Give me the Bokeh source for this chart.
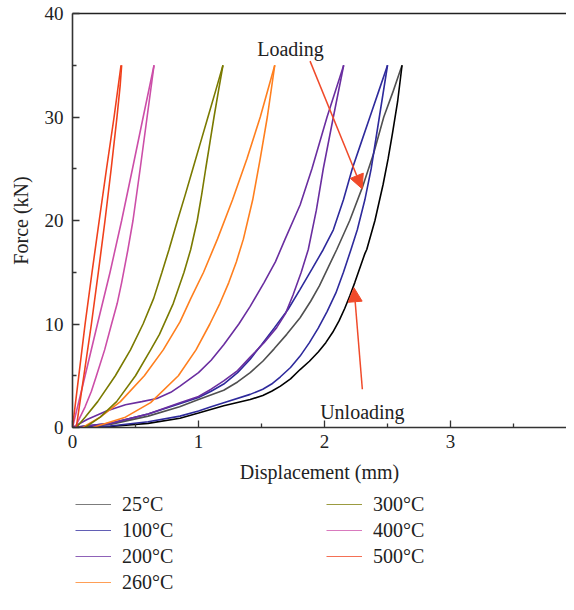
from bokeh.plotting import figure
from bokeh.layouts import column
from bokeh.models import (Range1d, LinearAxis, FixedTicker, Legend, LegendItem,
                          Arrow, NormalHead, Label)
from bokeh.embed import file_html
from bokeh.resources import INLINE

FONT = "Liberation Serif"

# ---------------- data (displacement mm, force kN) ----------------
labels = ["25°C", "100°C", "200°C", "260°C", "300°C", "400°C", "500°C"]
colors = ["#505050", "#2e2a9c", "#6a2ea0", "#ff7f1e", "#7a7a00", "#cc4ea8", "#f0401c"]
unload_colors = ["#000000", "#2e2a9c", "#6a2ea0", "#ff7f1e", "#7a7a00", "#cc4ea8", "#f0401c"]

# branch A (upper / left branch of each loop)
xa_25 = [0.0, 0.3, 0.6, 0.85, 1.0, 1.2, 1.31, 1.41, 1.51, 1.6, 1.7, 1.806, 1.89, 1.96, 2.03, 2.097, 2.2, 2.30, 2.39, 2.47, 2.545, 2.615]
ya_25 = [0.0, 0.3, 1.1, 2.0, 2.7, 3.6, 4.4, 5.3, 6.4, 7.6, 9.0, 10.6, 12.2, 13.7, 15.5, 17.2, 20.0, 23.2, 26.5, 30.0, 32.5, 35.0]
xa_100 = [0.0, 0.3, 0.6, 0.85, 1.0, 1.1, 1.2, 1.31, 1.41, 1.5, 1.6, 1.71, 1.806, 1.9, 1.99, 2.07, 2.15, 2.22, 2.29, 2.36, 2.43, 2.50]
ya_100 = [0.0, 0.4, 1.3, 2.3, 2.9, 3.5, 4.2, 5.3, 6.6, 8.0, 9.6, 11.4, 13.35, 15.3, 17.2, 19.1, 22.0, 25.0, 27.5, 30.0, 32.5, 35.0]
xa_200 = [0.0, 0.12, 0.27, 0.42, 0.55, 0.67, 0.78, 0.853, 1.0, 1.1, 1.2, 1.32, 1.41, 1.52, 1.61, 1.687, 1.806, 1.9, 2.02, 2.152]
ya_200 = [0.0, 0.8, 1.6, 2.2, 2.5, 2.8, 3.4, 4.0, 5.3, 6.5, 8.0, 10.0, 11.7, 14.0, 16.0, 18.2, 21.5, 25.0, 30.0, 35.0]
xa_260 = [0.08, 0.22, 0.38, 0.57, 0.72, 0.853, 0.94, 1.04, 1.15, 1.27, 1.385, 1.49, 1.605]
ya_260 = [0.0, 1.0, 2.5, 5.0, 7.5, 10.2, 12.5, 15.0, 18.2, 22.0, 26.0, 30.0, 35.0]
xa_300 = [0.03, 0.10, 0.20, 0.34, 0.46, 0.56, 0.645, 0.71, 0.766, 0.833, 0.895, 0.955, 1.015, 1.075, 1.135, 1.194]
ya_300 = [0.0, 1.0, 2.5, 5.0, 7.5, 10.0, 12.5, 15.0, 17.2, 20.0, 22.5, 25.0, 27.5, 30.0, 32.5, 35.0]
xa_400 = [0.0, 0.1, 0.198, 0.298, 0.39, 0.476, 0.561, 0.647]
ya_400 = [0.0, 5.0, 10.0, 15.0, 20.0, 25.0, 30.0, 35.0]
xa_500 = [0.0, 0.05, 0.1, 0.155, 0.212, 0.27, 0.33, 0.385]
ya_500 = [0.0, 5.0, 10.0, 15.0, 20.0, 25.0, 30.0, 35.0]

# branch B (lower / right branch of each loop)
xb_25 = [0.05, 0.3, 0.6, 0.853, 1.0, 1.2, 1.41, 1.51, 1.58, 1.65, 1.73, 1.806, 1.88, 1.95, 2.01, 2.065, 2.115, 2.16, 2.20, 2.24, 2.32, 2.335, 2.40, 2.465, 2.505, 2.54, 2.58, 2.615]
yb_25 = [0.0, 0.1, 0.4, 0.9, 1.4, 2.1, 2.7, 3.1, 3.5, 4.0, 4.7, 5.6, 6.4, 7.3, 8.2, 9.2, 10.3, 11.5, 12.7, 14.0, 16.8, 17.2, 20.0, 23.5, 26.0, 28.5, 31.5, 35.0]
xb_100 = [0.0, 0.3, 0.6, 0.853, 1.0, 1.1, 1.2, 1.41, 1.51, 1.58, 1.65, 1.73, 1.806, 1.88, 1.95, 2.02, 2.09, 2.15, 2.21, 2.26, 2.32, 2.37, 2.435, 2.50]
yb_100 = [0.0, 0.15, 0.55, 1.1, 1.6, 2.0, 2.4, 3.2, 3.7, 4.2, 4.9, 5.8, 6.9, 8.2, 9.6, 11.2, 13.0, 15.0, 17.2, 19.1, 22.0, 25.0, 30.0, 35.0]
xb_200 = [0.0, 0.3, 0.6, 0.853, 1.0, 1.1, 1.2, 1.31, 1.41, 1.52, 1.62, 1.69, 1.75, 1.815, 1.871, 1.935, 1.99, 2.07, 2.152]
yb_200 = [0.0, 0.4, 1.3, 2.4, 3.0, 3.7, 4.5, 5.5, 6.8, 8.2, 9.65, 11.0, 12.8, 15.0, 17.2, 21.0, 25.0, 30.0, 35.0]
xb_260 = [0.16, 0.42, 0.62, 0.84, 0.98, 1.09, 1.17, 1.24, 1.30, 1.356, 1.43, 1.49, 1.546, 1.605]
yb_260 = [0.0, 1.0, 2.4, 5.0, 7.5, 10.0, 12.0, 14.0, 16.0, 18.2, 22.0, 26.0, 30.0, 35.0]
xb_300 = [0.10, 0.22, 0.35, 0.50, 0.62, 0.69, 0.80, 0.885, 0.938, 0.99, 1.025, 1.057, 1.09, 1.123, 1.158, 1.194]
yb_300 = [0.0, 1.0, 2.5, 5.0, 7.5, 9.0, 12.0, 15.0, 17.2, 20.0, 22.5, 25.0, 27.5, 30.0, 32.5, 35.0]
xb_400 = [0.02, 0.06, 0.1, 0.15, 0.19, 0.255, 0.31, 0.355, 0.39, 0.44, 0.48, 0.537, 0.592, 0.647]
yb_400 = [0.0, 1.0, 2.0, 3.5, 5.0, 7.5, 10.0, 12.0, 14.0, 17.2, 20.0, 25.0, 30.0, 35.0]
xb_500 = [0.03, 0.09, 0.15, 0.205, 0.258, 0.307, 0.353, 0.378, 0.39]
yb_500 = [0.0, 5.0, 10.0, 15.0, 20.0, 25.0, 30.0, 33.0, 35.0]

branch_a = [(xa_25, ya_25), (xa_100, ya_100), (xa_200, ya_200), (xa_260, ya_260),
            (xa_300, ya_300), (xa_400, ya_400), (xa_500, ya_500)]
branch_b = [(xb_25, yb_25), (xb_100, yb_100), (xb_200, yb_200), (xb_260, yb_260),
            (xb_300, yb_300), (xb_400, yb_400), (xb_500, yb_500)]

x_ticks = [0, 1, 2, 3, 4]
x_minor = [0.5, 1.5, 2.5, 3.5]
y_ticks = [0, 10, 20, 30, 40]
y_minor = [5, 15, 25, 35]

# ---------------- main figure ----------------
p = figure(width=566, height=490, output_backend="svg", toolbar_location=None,
           x_range=Range1d(0, 3.92), y_range=Range1d(0, 40),
           min_border_left=72, min_border_right=0, min_border_top=13, min_border_bottom=63,
           x_axis_label="Displacement (mm)", y_axis_label="Force (kN)")
p.xgrid.visible = False
p.ygrid.visible = False
p.outline_line_color = None
p.background_fill_color = "white"
p.border_fill_color = "white"

p.xaxis.ticker = FixedTicker(ticks=x_ticks, minor_ticks=x_minor)
p.yaxis.ticker = FixedTicker(ticks=y_ticks, minor_ticks=y_minor)
for ax in (p.xaxis[0], p.yaxis[0]):
    ax.axis_line_color = "#333333"
    ax.axis_line_width = 1.6
    ax.major_tick_line_color = "#333333"
    ax.minor_tick_line_color = "#333333"
    ax.major_tick_line_width = 1.3
    ax.minor_tick_line_width = 1.3
    ax.major_tick_in = 7
    ax.major_tick_out = 0
    ax.minor_tick_in = 4
    ax.minor_tick_out = 0
    ax.major_label_text_font = FONT
    ax.major_label_text_font_size = "19px"
    ax.major_label_text_color = "#222222"
    ax.axis_label_text_font = FONT
    ax.axis_label_text_font_size = "20px"
    ax.axis_label_text_font_style = "normal"
    ax.axis_label_text_color = "#222222"
p.xaxis.major_label_standoff = 7
p.xaxis.axis_label_standoff = 10
p.yaxis.major_label_standoff = 9
p.yaxis.axis_label_standoff = 10

top_axis = LinearAxis(ticker=FixedTicker(ticks=[]), major_label_text_font_size="0px",
                      major_tick_in=0, major_tick_out=0, minor_tick_in=0, minor_tick_out=0,
                      axis_line_color="#222222", axis_line_width=1.6)
p.add_layout(top_axis, "above")

for i, lab in enumerate(labels):
    xa, ya = branch_a[i]
    xb, yb = branch_b[i]
    p.line(xa, ya, line_color=colors[i], line_width=1.6)
    p.line(xb, yb, line_color=unload_colors[i], line_width=1.6)

arrow_color = "#f04a2a"
p.add_layout(Arrow(end=NormalHead(size=14, fill_color=arrow_color, line_color=arrow_color),
                   x_start=1.885, y_start=35.4, x_end=2.298, y_end=23.07,
                   line_color=arrow_color, line_width=1.5))
p.add_layout(Arrow(end=NormalHead(size=14, fill_color=arrow_color, line_color=arrow_color),
                   x_start=2.30, y_start=3.7, x_end=2.234, y_end=13.5,
                   line_color=arrow_color, line_width=1.5))
p.add_layout(Label(x=1.73, y=36.55, text="Loading", text_font=FONT, text_font_size="20px",
                   text_color="#222222", text_align="center", text_baseline="alphabetic"))
p.add_layout(Label(x=2.30, y=1.48, text="Unloading", text_font=FONT, text_font_size="20px",
                   text_color="#222222", text_align="center", text_baseline="alphabetic"))

# ---------------- legend figure (its lines lie outside its ranges; only the legend shows) ----------------
lg = figure(width=566, height=104, output_backend="svg", toolbar_location=None,
            x_range=Range1d(10, 11), y_range=Range1d(100, 101),
            x_axis_location=None, y_axis_location=None,
            min_border_left=69, min_border_right=0, min_border_top=0, min_border_bottom=0)
lg.xgrid.visible = False
lg.ygrid.visible = False
lg.outline_line_color = None
lg.background_fill_color = "white"
lg.border_fill_color = "white"

items = []
for i, lab in enumerate(labels):
    xa, ya = branch_a[i]
    r = lg.line(xa, ya, line_color=colors[i], line_width=1.6)
    items.append(LegendItem(label=lab, renderers=[r]))

legend = Legend(items=items, location="top_left", orientation="vertical", nrows=4,
                glyph_width=36, glyph_height=1, label_height=20, label_width=201,
                label_standoff=11, spacing=3, padding=0, margin=3,
                label_text_font=FONT, label_text_font_size="20px", label_text_color="#222222",
                border_line_color=None, background_fill_alpha=0)
lg.add_layout(legend, "center")

layout = column(p, lg, spacing=0)
open("out.html", "w").write(file_html(layout, INLINE))
